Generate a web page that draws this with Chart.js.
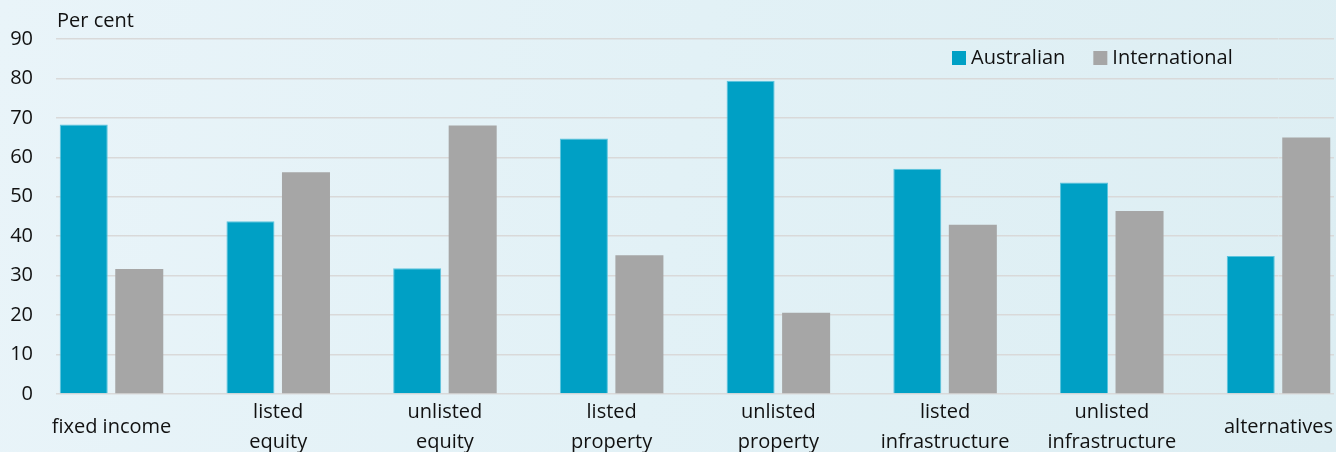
<!DOCTYPE html>
<html>
<head>
<meta charset="utf-8">
<script src="https://cdn.jsdelivr.net/npm/chart.js@4"></script>
<style>
  html, body { margin: 0; padding: 0; }
  body { width: 1336px; height: 452px; background: linear-gradient(100deg, #e9f4f9 0%, #e2f1f6 50%, #ddeef3 100%); }
  #wrap { position: relative; width: 1336px; height: 452px; }
  canvas { display: block; }
</style>
</head>
<body>
<div id="wrap"><canvas id="chart" width="1336" height="452"></canvas></div>
<script>
const categories = [
  'fixed income',
  ['listed', 'equity'],
  ['unlisted', 'equity'],
  ['listed', 'property'],
  ['unlisted', 'property'],
  ['listed', 'infrastructure'],
  ['unlisted', 'infrastructure'],
  'alternatives'
];
const australian    = [68.3, 43.8, 31.9, 64.8, 79.4, 57.1, 53.6, 35.0];
const international = [31.7, 56.2, 68.1, 35.2, 20.6, 42.9, 46.4, 65.0];
const yTicks = [0, 90, 10]; // min, max, step

const FONT = '"Open Sans", sans-serif';
const gridColor = '#d9d9d9';

// "Per cent" label and the in-plot legend
const extras = {
  id: 'extras',
  afterDraw(chart) {
    const ctx = chart.ctx;
    ctx.save();
    ctx.font = '20px ' + FONT;
    ctx.fillStyle = '#111';
    ctx.textBaseline = 'middle';
    ctx.textAlign = 'left';
    ctx.fillText('Per cent', 57, 21);

    let x = 952;
    const y = 58;
    chart.data.datasets.forEach(ds => {
      ctx.fillStyle = ds.backgroundColor;
      ctx.fillRect(x, y - 7, 14, 14);
      ctx.fillStyle = '#111';
      ctx.fillText(ds.label, x + 19, y);
      x += 19 + ctx.measureText(ds.label).width + 28;
    });
    ctx.restore();
  }
};

new Chart(document.getElementById('chart'), {
  type: 'bar',
  data: {
    labels: categories,
    datasets: [
      {
        label: 'Australian',
        data: australian,
        backgroundColor: '#00a0c5',
        borderColor: '#5cc4de',
        borderWidth: { top: 1, left: 1, right: 1, bottom: 0 },
        clip: false
      },
      {
        label: 'International',
        data: international,
        backgroundColor: '#a6a6a6',
        clip: false
      }
    ]
  },
  options: {
    responsive: false,
    animation: false,
    devicePixelRatio: 1,
    layout: { padding: { top: 39, right: 2, left: 0, bottom: 0 } },
    categoryPercentage: 0.666,
    barPercentage: 0.865,
    plugins: {
      legend: { display: false },
      tooltip: { enabled: false }
    },
    scales: {
      x: {
        offset: false,
        grid: { display: false, drawTicks: false },
        border: { display: false },
        ticks: {
          autoSkip: false,
          maxRotation: 0,
          minRotation: 0,
          padding: 18,
          crossAlign: 'center',
          color: '#111',
          font: { family: FONT, size: 20, lineHeight: 1.5 }
        },
        afterFit(s) {
          s.height = 58;
          s.paddingLeft = 0;
          s.paddingRight = 0;
        }
      },
      y: {
        min: yTicks[0],
        max: yTicks[1],
        grid: { color: gridColor, lineWidth: 1.5, drawTicks: true, tickLength: 55.5 },
        border: { display: false },
        ticks: {
          stepSize: yTicks[2],
          autoSkip: false,
          padding: 23,
          color: '#111',
          font: { family: FONT, size: 20 }
        },
        afterFit(s) { s.width = 111.5; }
      },
      y2: {
        position: 'right',
        min: yTicks[0],
        max: yTicks[1],
        grid: { color: gridColor, lineWidth: 1.5, drawOnChartArea: false, drawTicks: true, tickLength: 55.5 },
        border: { display: false },
        ticks: { stepSize: yTicks[2], autoSkip: false, display: false }
      }
    }
  },
  plugins: [extras]
});
</script>
</body>
</html>
